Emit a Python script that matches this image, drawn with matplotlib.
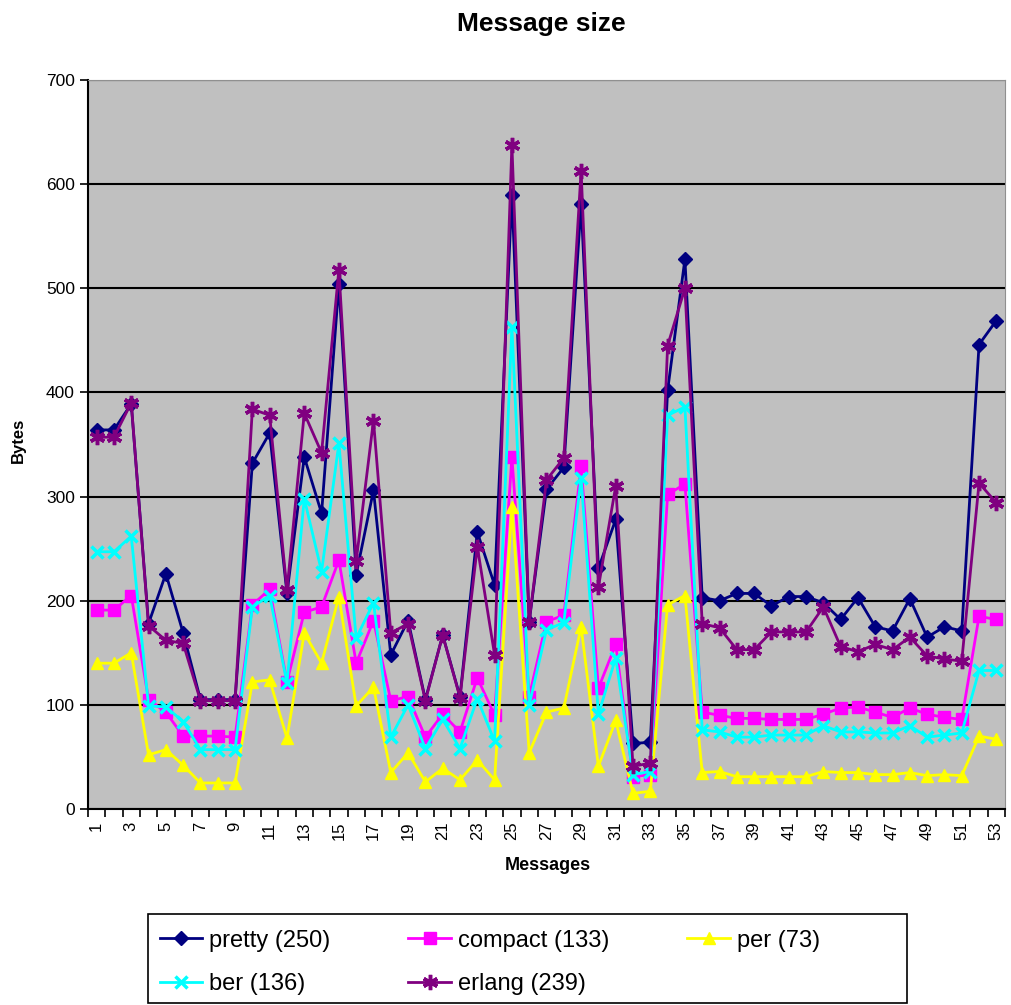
import matplotlib
matplotlib.use("Agg")
import matplotlib.pyplot as plt
from matplotlib.patches import Rectangle
import numpy as np

plt.rcParams['font.family'] = ['Liberation Sans', 'DejaVu Sans']

# message index 1..53
messages = list(range(1, 54))

pretty = [364, 364, 389, 178, 226, 169, 105, 105, 105, 332, 361, 207, 338, 284, 504,
          225, 306, 148, 181, 105, 167, 108, 266, 215, 590, 180, 307, 328, 581, 231,
          278, 63, 64, 402, 528, 203, 200, 207, 207, 195, 204, 204, 198, 182, 203,
          175, 171, 202, 165, 175, 171, 446, 469]
compact = [191, 191, 205, 105, 93, 70, 70, 70, 69, 196, 211, 122, 189, 194, 239,
           140, 181, 104, 108, 69, 91, 74, 126, 90, 338, 108, 180, 186, 329, 116,
           158, 31, 33, 302, 312, 93, 90, 87, 87, 86, 86, 86, 91, 97, 98,
           93, 88, 97, 91, 88, 86, 185, 182]
per = [140, 140, 150, 52, 57, 42, 25, 25, 25, 122, 124, 68, 169, 140, 204,
       99, 117, 35, 54, 26, 39, 28, 47, 28, 290, 54, 93, 97, 175, 41,
       85, 15, 17, 196, 205, 35, 36, 31, 31, 31, 31, 31, 36, 35, 35,
       33, 33, 35, 32, 33, 32, 70, 67]
ber = [247, 247, 262, 99, 98, 84, 57, 57, 57, 194, 205, 121, 298, 228, 351,
       164, 198, 69, 100, 58, 86, 58, 106, 65, 463, 100, 172, 179, 318, 91,
       145, 33, 36, 378, 386, 76, 74, 69, 69, 71, 71, 71, 80, 74, 74,
       73, 73, 80, 69, 71, 73, 133, 133]
erlang = [357, 357, 390, 176, 162, 159, 104, 104, 104, 384, 378, 210, 380, 342, 518,
          238, 373, 169, 178, 104, 167, 107, 252, 148, 638, 180, 316, 337, 613, 213,
          310, 41, 44, 445, 500, 178, 174, 153, 153, 170, 170, 170, 194, 156, 151,
          158, 153, 165, 147, 144, 142, 313, 294]

labels = ['pretty (250)', 'compact (133)', 'per (73)', 'ber (136)', 'erlang (239)']

fig = plt.figure(figsize=(10.12, 10.05), dpi=100)
ax = fig.add_axes([88/1012, 1-809/1005, (1005-88)/1012, (809-80)/1005])
ax.set_facecolor('#c0c0c0')

x = np.array(messages)
l1, = ax.plot(x, pretty, color='#000080', marker='D', ms=7, lw=2, label=labels[0])
l2, = ax.plot(x, compact, color='#ff00ff', marker='s', ms=9, lw=2, label=labels[1])
l3, = ax.plot(x, per, color='#ffff00', marker='^', ms=9, lw=2, label=labels[2])
l4, = ax.plot(x, ber, color='#00ffff', marker='x', ms=9, mew=2.5, lw=2, label=labels[3])
l5, = ax.plot(x, erlang, color='#800080', marker=(6, 2, 0), ms=11, mew=2.5, lw=2, label=labels[4])

ax.set_xlim(0.5, 53.5)
ax.set_ylim(0, 700)
ax.set_yticks(range(0, 701, 100))
ax.yaxis.grid(True, color='black', lw=1.5)
ax.set_axisbelow(True)

# category axis: tick marks between categories, labels on odd ones
ax.set_xticks(np.arange(0.5, 54, 1))
ax.set_xticklabels([])
ax.set_xticks(x[::2], minor=True)
ax.set_xticklabels([str(v) for v in x[::2]], minor=True, rotation=90, fontsize=12)
ax.tick_params(axis='x', which='major', length=6, width=1.2, direction='out')
ax.tick_params(axis='x', which='minor', length=0, pad=9)
ax.tick_params(axis='y', length=6, width=1.2, labelsize=12.5)

ax.spines['left'].set_color('black')
ax.spines['bottom'].set_color('black')
ax.spines['left'].set_linewidth(1.5)
ax.spines['bottom'].set_linewidth(1.5)
ax.spines['top'].set_color('#909090')
ax.spines['right'].set_color('#909090')

fig.text(0.535, 0.976, 'Message size', ha='center', va='center', fontsize=19, fontweight='bold')
fig.text(18/1012, 1-440/1005, 'Bytes', ha='center', va='center', rotation=90, fontsize=12, fontweight='bold')
fig.text(548/1012, 1-865/1005, 'Messages', ha='center', va='center', fontsize=13, fontweight='bold')

# legend frame drawn separately so it spans the same width as the reference
fig.patches.append(Rectangle((148/1012, 1-1003/1005), (907-148)/1012, 89/1005,
                             transform=fig.transFigure, facecolor='white',
                             edgecolor='black', lw=1.2, zorder=0))
handles = [l1, l4, l2, l5, l3]
leg = fig.legend(handles, [h.get_label() for h in handles], ncol=3,
                 bbox_to_anchor=(155/1012, 1-925/1005), loc='upper left',
                 fontsize=17, frameon=False, handlelength=1.8, handletextpad=0.3,
                 borderaxespad=0, borderpad=0.2, labelspacing=0.9, columnspacing=3.3)

fig.savefig('out.png', dpi=100)
